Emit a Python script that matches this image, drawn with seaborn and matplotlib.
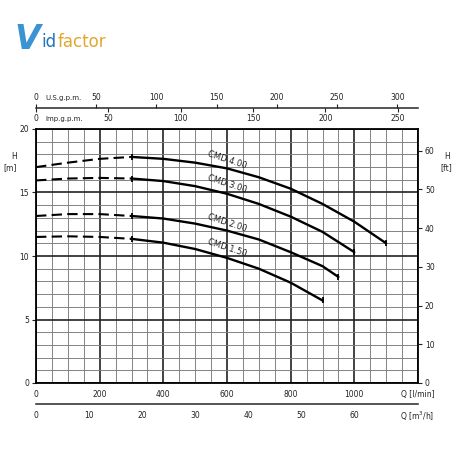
import numpy as np
import pandas as pd
import matplotlib.pyplot as plt
import seaborn as sns
from matplotlib.ticker import MultipleLocator

# pump curves, Q in l/min, H in m
models = ['CMD 4.00', 'CMD 3.00', 'CMD 2.00', 'CMD 1.50']

q_dash = [0, 100, 200, 300]
h_dash_400 = [17.0, 17.35, 17.65, 17.8]
h_dash_300 = [15.95, 16.1, 16.15, 16.1]
h_dash_200 = [13.15, 13.3, 13.3, 13.15]
h_dash_150 = [11.5, 11.55, 11.5, 11.35]

q_400 = [300, 400, 500, 600, 700, 800, 900, 1000, 1100]
h_400 = [17.8, 17.65, 17.35, 16.9, 16.2, 15.3, 14.1, 12.7, 11.0]
q_300 = [300, 400, 500, 600, 700, 800, 900, 1000]
h_300 = [16.1, 15.9, 15.5, 14.9, 14.1, 13.1, 11.9, 10.3]
q_200 = [300, 400, 500, 600, 700, 800, 900, 950]
h_200 = [13.15, 12.95, 12.55, 12.0, 11.3, 10.3, 9.2, 8.35]
q_150 = [300, 400, 500, 600, 700, 800, 900]
h_150 = [11.35, 11.05, 10.55, 9.85, 9.0, 7.9, 6.5]

label_q = [600, 600, 600, 600]
label_h = [17.55, 15.7, 12.6, 10.6]

q_ticks = [0, 200, 400, 600, 800, 1000, 1200]
q_labels = ['0', '200', '400', '600', '800', '1000', 'Q [l/min]']
us_ticks = [0, 50, 100, 150, 200, 250, 300]
imp_ticks = [0, 50, 100, 150, 200, 250]
m3h_ticks = [0, 10, 20, 30, 40, 50, 60, 70]
ft_ticks = [0, 10, 20, 30, 40, 50, 60]

dash = {'CMD 4.00': h_dash_400, 'CMD 3.00': h_dash_300,
        'CMD 2.00': h_dash_200, 'CMD 1.50': h_dash_150}
solid = {'CMD 4.00': (q_400, h_400), 'CMD 3.00': (q_300, h_300),
         'CMD 2.00': (q_200, h_200), 'CMD 1.50': (q_150, h_150)}

sns.set_style('white')
plt.rcParams['font.family'] = ['DejaVu Sans']
fs = 5.5
txt = '#222222'

fig = plt.figure(figsize=(4.55, 4.55), dpi=100)
L, B, W, H = 36/455, 72/455, 382/455, 254/455
ax = fig.add_axes([L, B, W, H])

for m in models:
    sns.lineplot(x=q_dash, y=dash[m], ax=ax, color='k', lw=1.5,
                 linestyle=(0, (5, 2.5)), sort=False, estimator=None)
    qs, hs = solid[m]
    sns.lineplot(x=qs, y=hs, ax=ax, color='k', lw=1.7, sort=False, estimator=None)
    ax.plot([qs[0], qs[-1]], [hs[0], hs[-1]], ls='none', marker='|',
            color='k', ms=5, mew=1.3)

for m, x, y in zip(models, label_q, label_h):
    ax.text(x, y, m, fontsize=6, rotation=-18, ha='center', va='center',
            color=txt)

ax.set_xlim(0, 1200)
ax.set_ylim(0, 20)
ax.set_xticks(q_ticks)
ax.set_xticklabels(q_labels)
ax.set_yticks([0, 5, 10, 15, 20])
ax.xaxis.set_minor_locator(MultipleLocator(50))
ax.yaxis.set_minor_locator(MultipleLocator(1))
ax.grid(which='minor', color='#7a7a7a', lw=0.65)
ax.grid(which='major', color='#222222', lw=1.2)
ax.set_axisbelow(True)
ax.tick_params(which='major', direction='out', length=3, width=0.8,
               labelsize=fs, pad=2, colors=txt)
ax.tick_params(which='minor', length=0)
for s in ax.spines.values():
    s.set_linewidth(1.3)
    s.set_color('k')
ax.set_xlabel('')
ax.set_ylabel('')
ax.text(-0.05, 0.87, 'H\n[m]', transform=ax.transAxes, fontsize=fs,
        ha='right', va='center', linespacing=1.4, color=txt)

# right axis in feet
ax2 = ax.twinx()
ax2.set_ylim(0, 20 * 3.28084)
ax2.set_yticks(ft_ticks)
ax2.tick_params(direction='out', length=3, width=0.8, labelsize=fs, pad=2,
                colors=txt)
ax2.grid(False)
for s in ax2.spines.values():
    s.set_visible(False)
ax2.text(1.075, 0.87, 'H\n[ft]', transform=ax.transAxes, fontsize=fs,
         ha='center', va='center', linespacing=1.4, color=txt)

# top scales: U.S. and Imperial gallons per minute
top_y = (455 - 108) / 455
ax_us = fig.add_axes([L, top_y, W, 0])
ax_us.set_xlim(0, 1200 / 3.785)
ax_us.set_xticks(us_ticks)
ax_us.set_yticks([])
ax_us.xaxis.set_ticks_position('top')
ax_us.tick_params(axis='x', direction='out', length=3, width=0.8,
                  labelsize=fs, pad=1.5, colors=txt)
for k, s in ax_us.spines.items():
    s.set_visible(k == 'top')
ax_us.spines['top'].set_linewidth(1.1)
ax_us.patch.set_alpha(0)

ax_imp = fig.add_axes([L, top_y, W, 0])
ax_imp.set_xlim(0, 1200 / 4.546)
ax_imp.set_xticks(imp_ticks)
ax_imp.set_yticks([])
ax_imp.xaxis.set_ticks_position('bottom')
ax_imp.tick_params(axis='x', direction='out', length=3, width=0.8,
                   labelsize=fs, pad=1.5, colors=txt)
for s in ax_imp.spines.values():
    s.set_visible(False)
ax_imp.patch.set_alpha(0)

fig.text(45 / 455, (455 - 98) / 455, 'U.S.g.p.m.', fontsize=fs - 0.5,
         ha='left', va='center', color=txt)
fig.text(45 / 455, (455 - 119) / 455, 'Imp.g.p.m.', fontsize=fs - 0.5,
         ha='left', va='center', color=txt)

# bottom scale in m3/h
ax_m3 = fig.add_axes([L, (455 - 404) / 455, W, 0])
ax_m3.set_xlim(0, 72)
ax_m3.set_xticks(m3h_ticks)
ax_m3.set_xticklabels([str(t) for t in m3h_ticks[:-1]] + [''])
ax_m3.set_yticks([])
ax_m3.tick_params(axis='x', direction='out', length=3, width=0.8,
                  labelsize=fs, pad=2, colors=txt)
for k, s in ax_m3.spines.items():
    s.set_visible(k == 'bottom')
ax_m3.spines['bottom'].set_linewidth(1.1)
ax_m3.patch.set_alpha(0)

fig.text(417 / 455, (455 - 410) / 455, 'Q [m$^3$/h]', fontsize=fs,
         ha='center', va='top', color=txt)

# logo
fig.text(14 / 455, (455 - 49) / 455, 'V', fontsize=24, fontweight='bold',
         style='italic', color='#3a93d3', ha='left', va='baseline')
fig.text(41 / 455, (455 - 47) / 455, 'id', fontsize=12, color='#1f74bd',
         ha='left', va='baseline')
fig.text(58 / 455, (455 - 47) / 455, 'factor', fontsize=12, color='#e3a72f',
         ha='left', va='baseline')

fig.savefig('out.png', dpi=100, facecolor='white')
